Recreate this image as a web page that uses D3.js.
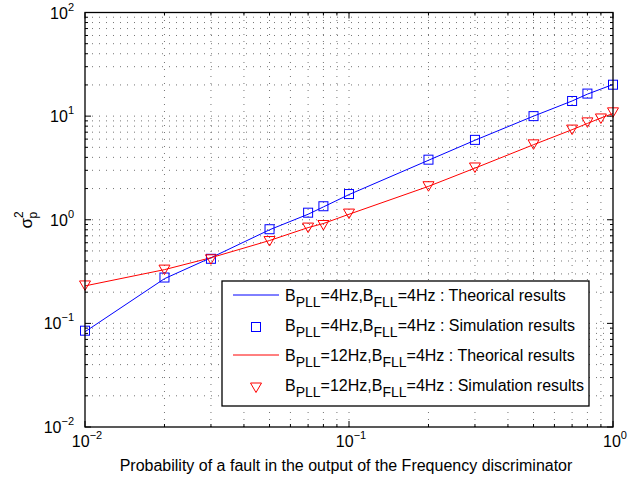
<!DOCTYPE html>
<html><head><meta charset="utf-8">
<script src="https://cdn.jsdelivr.net/npm/d3@7"></script>
<style>body{margin:0;background:#fff}svg{display:block}text{font-family:"Liberation Sans",Arial,sans-serif}</style>
</head><body><svg id="c" width="644" height="481"></svg>
<script>
const xVals = [0.01,0.02,0.03,0.05,0.07,0.08,0.1,0.2,0.3,0.5,0.7,0.8,1.0];
const blueTheory = [0.083,0.27,0.43,0.80,1.13,1.33,1.75,3.75,5.85,10.0,14.0,16.3,20.2];
const blueSim = [0.085,0.277,0.42,0.81,1.17,1.35,1.77,3.8,5.9,10.0,14.0,16.5,20.1];
const xRed = [0.01,0.02,0.03,0.05,0.07,0.08,0.1,0.2,0.3,0.5,0.7,0.8,0.9,1.0];
const redTheory = [0.23,0.33,0.43,0.63,0.84,0.92,1.13,2.1,3.15,5.3,7.4,8.5,9.6,10.6];
const redSim = [0.235,0.334,0.42,0.63,0.85,0.9,1.16,2.13,3.23,5.4,7.5,8.8,9.6,11.0];
const xTickExp = [-2,-1,0];
const yTickExp = [-2,-1,0,1,2];
const legendItems = [
  {sub1:"=4Hz,B", val:"4Hz", desc:"Theorical results", color:"#0000ff", kind:"line"},
  {sub1:"=4Hz,B", val:"4Hz", desc:"Simulation results", color:"#0000ff", kind:"square"},
  {sub1:"=12Hz,B", val:"4Hz", desc:"Theorical results", color:"#ff0000", kind:"line"},
  {sub1:"=12Hz,B", val:"4Hz", desc:"Simulation results", color:"#ff0000", kind:"tri"}
];

const svg = d3.select("#c");
const L=85, R=613, T=12.5, B=427;
const x = d3.scaleLog().domain([0.01,1]).range([L,R]);
const y = d3.scaleLog().domain([0.01,100]).range([B,T]);

const minorX=[], minorY=[];
for (let e=-2;e<0;e++) for (let m=2;m<=9;m++) minorX.push(m*Math.pow(10,e));
for (let e=-2;e<2;e++) for (let m=2;m<=9;m++) minorY.push(m*Math.pow(10,e));
const majorX = xTickExp.map(e=>Math.pow(10,e));
const majorY = yTickExp.map(e=>Math.pow(10,e));

const g = svg.append("g");
const grid = g.append("g").attr("stroke","#000").attr("stroke-width",0.9).attr("stroke-dasharray","1,6").attr("opacity",0.6);
minorX.concat(majorX.slice(1,-1)).forEach(v=>grid.append("line").attr("x1",x(v)).attr("x2",x(v)).attr("y1",B).attr("y2",T));
minorY.concat(majorY.slice(1,-1)).forEach(v=>grid.append("line").attr("y1",y(v)).attr("y2",y(v)).attr("x1",L).attr("x2",R));

const tk = g.append("g").attr("stroke","#000").attr("stroke-width",1);
minorX.forEach(v=>{tk.append("line").attr("x1",x(v)).attr("x2",x(v)).attr("y1",B).attr("y2",B-3);tk.append("line").attr("x1",x(v)).attr("x2",x(v)).attr("y1",T).attr("y2",T+3);});
majorX.forEach(v=>{tk.append("line").attr("x1",x(v)).attr("x2",x(v)).attr("y1",B).attr("y2",B-6);tk.append("line").attr("x1",x(v)).attr("x2",x(v)).attr("y1",T).attr("y2",T+6);});
minorY.forEach(v=>{tk.append("line").attr("y1",y(v)).attr("y2",y(v)).attr("x1",L).attr("x2",L+3);tk.append("line").attr("y1",y(v)).attr("y2",y(v)).attr("x1",R).attr("x2",R-3);});
majorY.forEach(v=>{tk.append("line").attr("y1",y(v)).attr("y2",y(v)).attr("x1",L).attr("x2",L+6);tk.append("line").attr("y1",y(v)).attr("y2",y(v)).attr("x1",R).attr("x2",R-6);});

const line = (xs)=>d3.line().x((d,i)=>x(xs[i])).y(d=>y(d));
g.append("path").datum(blueTheory).attr("d",line(xVals)).attr("fill","none").attr("stroke","#0000ff").attr("stroke-width",1);
g.append("path").datum(redTheory).attr("d",line(xRed)).attr("fill","none").attr("stroke","#ff0000").attr("stroke-width",1);

const sq = (sel,cx,cy,c)=>sel.append("rect").attr("x",cx-4.5).attr("y",cy-4.5).attr("width",9).attr("height",9).attr("fill","none").attr("stroke",c).attr("stroke-width",1);
const tri = (sel,cx,cy,c)=>sel.append("path").attr("d",`M${cx-5.5},${cy-4}L${cx+5.5},${cy-4}L${cx},${cy+5.5}Z`).attr("fill","none").attr("stroke",c).attr("stroke-width",1);
blueSim.forEach((v,i)=>sq(g,x(xVals[i]),y(v),"#0000ff"));
redSim.forEach((v,i)=>tri(g,x(xRed[i]),y(v),"#ff0000"));

g.append("rect").attr("x",L).attr("y",T).attr("width",R-L).attr("height",B-T).attr("fill","none").attr("stroke","#000").attr("stroke-width",1.3);

const fs=16;
xTickExp.forEach(e=>{
  const t=svg.append("text").attr("x",x(Math.pow(10,e))+2).attr("y",447).attr("text-anchor","middle").attr("font-size",fs);
  t.append("tspan").text("10");
  t.append("tspan").attr("dy",-8).attr("font-size",11).text(e<0?"\u2212"+(-e):String(e));
});
yTickExp.forEach(e=>{
  const t=svg.append("text").attr("x",74).attr("y",y(Math.pow(10,e))+6).attr("text-anchor","end").attr("font-size",fs);
  t.append("tspan").text("10");
  t.append("tspan").attr("dy",-8).attr("font-size",11).text(e<0?"\u2212"+(-e):String(e));
});

svg.append("text").attr("x",346).attr("y",471).attr("text-anchor","middle").attr("font-size",16).text("Probability of a fault in the output of the Frequency discriminator");
const yl=svg.append("text").attr("transform","translate(32,220) rotate(-90)").attr("text-anchor","middle").attr("font-size",17);
yl.append("tspan").text("\u03c3");
yl.append("tspan").attr("dy",-9).attr("font-size",12).text("2");
yl.append("tspan").attr("dx",-7).attr("dy",14).attr("font-size",12).text("p");

const lg = svg.append("g");
lg.append("rect").attr("x",222).attr("y",281).attr("width",367).attr("height",125).attr("fill","#fff").attr("stroke","#000").attr("stroke-width",1.3);
legendItems.forEach((d,i)=>{
  const cy = 295 + i*30;
  if (d.kind==="line") lg.append("line").attr("x1",233).attr("x2",279).attr("y1",cy).attr("y2",cy).attr("stroke",d.color).attr("stroke-width",1);
  else if (d.kind==="square") sq(lg,256,cy+2,d.color);
  else tri(lg,256,cy+2,d.color);
  const t=lg.append("text").attr("x",285).attr("y",cy+6).attr("font-size",fs);
  t.append("tspan").text("B");
  t.append("tspan").attr("dy",6).attr("font-size",14).text("PLL");
  t.append("tspan").attr("dy",-6).text(d.sub1);
  t.append("tspan").attr("dy",6).attr("font-size",14).text("FLL");
  t.append("tspan").attr("dy",-6).text("="+d.val+" : "+d.desc);
});
</script></body></html>
